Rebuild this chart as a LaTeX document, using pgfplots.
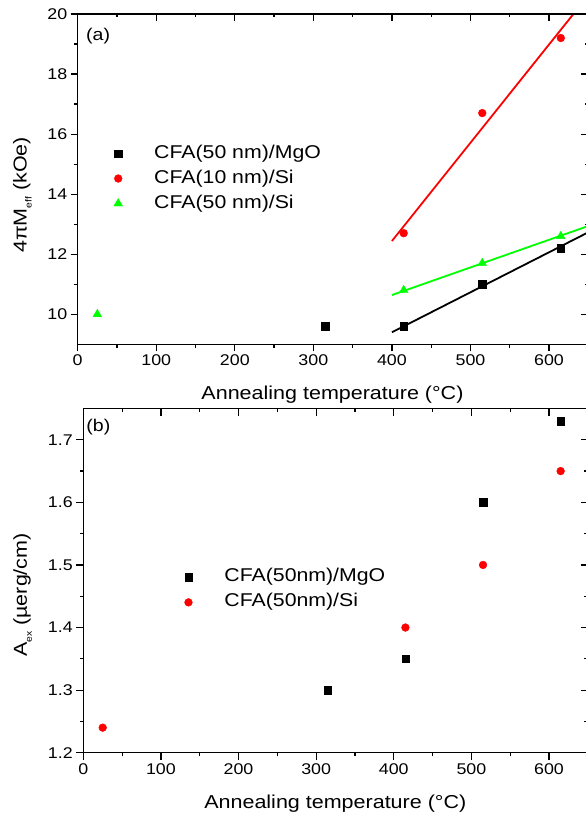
\documentclass[border=0pt]{standalone}
\usepackage{fontspec}
\setmainfont{Liberation Sans}[FakeStretch=1.15]
\usepackage{pgfplots}
\pgfplotsset{compat=1.18}
\definecolor{pgreen}{RGB}{0,255,0}
\definecolor{pred}{RGB}{255,0,0}
\pgfplotsset{
  common/.style={
    scale only axis,
    xmin=0, xmax=650,
    xtick={0,100,...,600},
    minor x tick num=1,
    /pgf/number format/assume math mode=true,
    tick label style={font=\fontsize{15.5}{16}\selectfont},
    label style={font=\fontsize{18.7}{20}\selectfont},
    major tick length=7pt, minor tick length=3.5pt,
    every tick/.style={black, line width=1.2pt},
    axis line style={line width=1.5pt},
  },
  mymarks/.style={only marks,
    legend image code/.code={\path[draw=none,fill=none] (0pt,-4pt) rectangle (50pt,4pt); \draw[mark repeat=2,mark phase=2,##1] plot coordinates {(0pt,0pt)(15pt,0pt)(30pt,0pt)};}},
  mylegend/.style={draw=none, fill=none, font=\fontsize{18.5}{20}\selectfont,
    nodes={inner sep=1pt, text height=13pt, text depth=4pt}, row sep=6pt, legend cell align=left},
}
\begin{document}
\begin{tikzpicture}
\useasboundingbox (0,0) rectangle (586pt,819pt);
% ---------- panel (a) ----------
\begin{axis}[common, at={(77.7pt,474.7pt)}, anchor=south west,
  width=510.6pt, height=330.3pt,
  ymin=9, ymax=20, ytick={10,12,...,20}, minor y tick num=1,
  tick pos=left, tick align=outside,
  xlabel={Annealing temperature (°C)},
  xlabel style={at={(axis description cs:0.499,-0.1686)}, anchor=base},
  ylabel={4πM\raisebox{-5pt}{\fontsize{9}{9}\selectfont eff} (kOe)},
  ylabel style={at={(axis description cs:-0.0999,0.452)}, anchor=base, rotate=0},
  legend style={mylegend, at={(axis description cs:0.0437,0.613)}, anchor=north west},
]
\addplot[mymarks, mark=square*, mark size=3.8pt, black] coordinates {(315,9.6) (415,9.6) (515,11.0) (615,12.2)};
\addlegendentry{CFA(50 nm)/MgO}
\addplot[mymarks, mark=*, mark size=3.9pt, pred] coordinates {(415,12.7) (515,16.7) (615,19.2)};
\addlegendentry{CFA(10 nm)/Si}
\addplot[mymarks, mark=triangle*, mark size=5pt, pgreen] coordinates {(25,10.0) (415,10.8) (515,11.7) (615,12.6)};
\addlegendentry{CFA(50 nm)/Si}
\addplot[forget plot, pred, line width=1.8pt] coordinates {(400,12.44) (650,20.62)};
\addplot[forget plot, pgreen, line width=1.8pt] coordinates {(400,10.64) (650,12.94)};
\addplot[forget plot, black, line width=1.8pt] coordinates {(400,9.40) (650,12.73)};
\node[font=\fontsize{17}{18}\selectfont] at (axis description cs:0.04,0.933) {(a)};
\end{axis}
\begin{axis}[common, at={(77.7pt,474.7pt)}, anchor=south west,
  width=510.6pt, height=330.3pt,
  ymin=9, ymax=20, ytick={10,12,...,20}, minor y tick num=1,
  tick pos=right, tick align=inside, xticklabels={}, yticklabels={},
]
\end{axis}
% ---------- panel (b) ----------
\begin{axis}[common, at={(83.3pt,66.3pt)}, anchor=south west,
  width=504.5pt, height=344.2pt,
  ymin=1.2, ymax=1.75, ytick={1.2,1.3,...,1.71}, minor y tick num=1,
  yticklabel style={/pgf/number format/.cd, fixed, precision=1},
  tick pos=left, tick align=outside,
  xlabel={Annealing temperature (°C)},
  xlabel style={at={(axis description cs:0.4995,-0.1615)}, anchor=base},
  ylabel={A\raisebox{-5pt}{\fontsize{9}{9}\selectfont ex} (µerg/cm)},
  ylabel style={at={(axis description cs:-0.112,0.458)}, anchor=base},
  legend style={mylegend, at={(axis description cs:0.1724,0.5434)}, anchor=north west},
]
\addplot[mymarks, mark=square*, mark size=3.7pt, black] coordinates {(315,1.30) (415,1.35) (515,1.60) (615,1.73)};
\addlegendentry{CFA(50nm)/MgO}
\addplot[mymarks, mark=*, mark size=3.9pt, pred] coordinates {(25,1.24) (415,1.40) (515,1.50) (615,1.65)};
\addlegendentry{CFA(50nm)/Si}
\node[font=\fontsize{17}{18}\selectfont] at (axis description cs:0.03,0.945) {(b)};
\end{axis}
\begin{axis}[common, at={(83.3pt,66.3pt)}, anchor=south west,
  width=504.5pt, height=344.2pt,
  ymin=1.2, ymax=1.75, ytick={1.2,1.3,...,1.71}, minor y tick num=1,
  tick pos=right, tick align=inside, xticklabels={}, yticklabels={},
]
\end{axis}
\end{tikzpicture}
\end{document}
